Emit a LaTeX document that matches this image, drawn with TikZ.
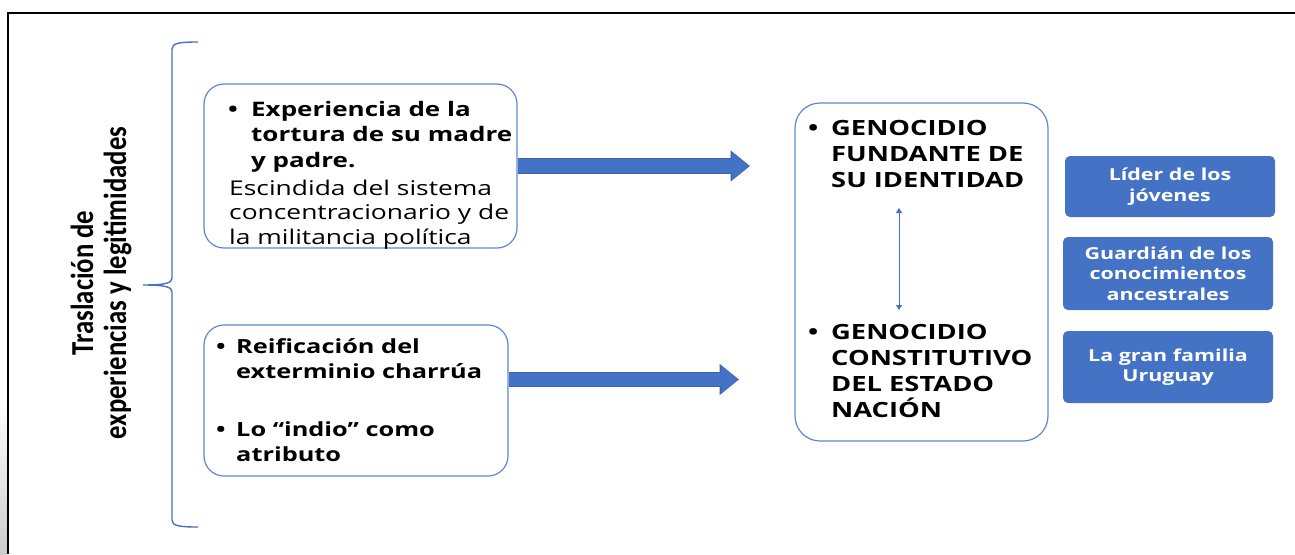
\documentclass[tikz,border=0pt]{standalone}
\usepackage{fontspec}
\setmainfont{Open Sans}[FakeStretch=1.3]
\newfontfamily\calib{Carlito}[FakeStretch=0.835]
\usetikzlibrary{arrows.meta,calc}
\definecolor{obl}{HTML}{4472C4}
\definecolor{obldark}{HTML}{3A63AD}
\definecolor{bord}{HTML}{5B87D3}
\begin{document}
\begin{tikzpicture}[x=1pt,y=-1pt,
  outbox/.style={draw=bord, line width=1.2pt, rounded corners=20pt, inner sep=0pt},
  bluebox/.style={fill=obl, draw=none, rounded corners=5pt, text=white, align=center,
     font=\bfseries\fontsize{16.5}{20.5}\selectfont, inner sep=0pt},
  txt/.style={anchor=base west, align=left, inner sep=0pt},
  blockedge/.style={draw=obldark, line width=15.5pt, -{Triangle[length=19.5pt,width=30pt]}},
  blockarr/.style={draw=obl, line width=13.5pt, shorten >=1.2pt, -{Triangle[length=17pt,width=26.5pt]}},
  thinarr/.style={draw=obl, line width=0.9pt, {Triangle[length=5pt,width=6pt]}-{Triangle[length=5pt,width=6pt]}},
  bracestyle/.style={draw=obl, line width=1.4pt}
]
\useasboundingbox (0,0) rectangle (1295,554);
% frame
\shade[top color=white, bottom color=gray!40] (0,400) rectangle (7,554);
\draw[line width=2.5pt] (8,554) -- (8,13) -- (1295,13);

% rotated label
\node[rotate=90, align=center, inner sep=0pt, font=\calib\bfseries\fontsize{32}{33}\selectfont] (lbl) at (101,283)
  {Traslación de\\experiencias y legitimidades};

% brace
\draw[bracestyle] (198,42) .. controls (180,42) and (172,43) .. (172,49) -- (172,278)
   .. controls (172,283) and (166,285) .. (143,285)
   .. controls (166,285) and (172,287) .. (172,292) -- (172,520)
   .. controls (172,526) and (180,527) .. (198,527);

% left boxes
\node[outbox, minimum width=313pt, minimum height=164pt] (b1) at (360.5,166) {};
\node[txt, font=\bfseries\fontsize{20}{25.5}\selectfont] (t1a) at (228,167)
  {\makebox[23pt][l]{•}Experiencia de la\\\hspace*{23pt}tortura de su madre\\\hspace*{23pt}y padre.};
\node[txt, font=\fontsize{20.3}{24.5}\selectfont] (t1b) at (229,244)
  {Escindida del sistema\\concentracionario y de\\la militancia política};

\node[outbox, minimum width=304pt, minimum height=151pt] (b2) at (356,400.5) {};
\node[txt, font=\bfseries\fontsize{19.5}{25}\selectfont] (t2a) at (216,378)
  {\makebox[20pt][l]{•}Reificación del\\\hspace*{20pt}exterminio charrúa};
\node[txt, font=\bfseries\fontsize{19.5}{25}\selectfont] (t2b) at (216,461)
  {\makebox[20pt][l]{•}Lo “indio” como\\\hspace*{20pt}atributo};

% big right box
\node[outbox, rounded corners=25pt, minimum width=253pt, minimum height=338pt] (b3) at (921.5,272) {};
\node[txt, font=\bfseries\fontsize{21}{26}\selectfont] (t3a) at (808,187)
  {\makebox[23pt][l]{•}GENOCIDIO\\\hspace*{23pt}FUNDANTE DE\\\hspace*{23pt}SU IDENTIDAD};
\node[txt, font=\bfseries\fontsize{21}{26}\selectfont] (t3b) at (808,417)
  {\makebox[23pt][l]{•}GENOCIDIO\\\hspace*{23pt}CONSTITUTIVO\\\hspace*{23pt}DEL ESTADO\\\hspace*{23pt}NACIÓN};
\coordinate (da1) at (899,208);
\coordinate (da2) at (899,310);
\draw[thinarr] (da1) -- (da2);

% blue boxes
\node[bluebox, minimum width=210pt, minimum height=61pt] (r1) at (1170,186.5) {Líder de los\\jóvenes};
\node[bluebox, minimum width=210pt, minimum height=73pt] (r2) at (1168,273.5) {Guardián de los\\conocimientos\\ancestrales};
\node[bluebox, minimum width=210pt, minimum height=72pt] (r3) at (1168,367) {La gran familia\\Uruguay};

% block arrows
\coordinate (tip1) at (750,166);
\coordinate (tip2) at (739,379.5);
\draw[blockedge] (b1.east) -- (tip1);
\draw[blockarr] (b1.east) -- (tip1);
\draw[blockedge] (b2.east |- tip2) -- (tip2);
\draw[blockarr] (b2.east |- tip2) -- (tip2);
\end{tikzpicture}
\end{document}
